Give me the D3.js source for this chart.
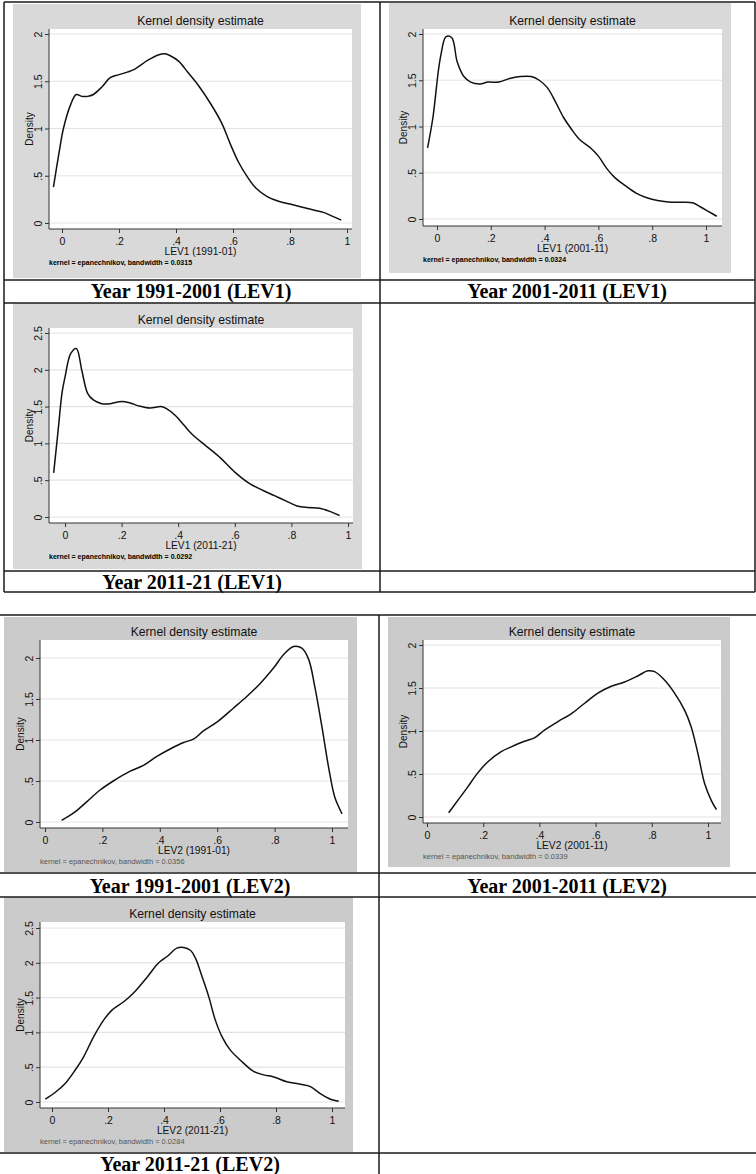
<!DOCTYPE html>
<html>
<head>
<meta charset="utf-8">
<script src="https://cdn.jsdelivr.net/npm/d3@7"></script>
<style>
  body { margin: 0; background: #fff; }
  svg { display: block; }
</style>
</head>
<body>
<svg id="fig" width="756" height="1174"></svg>
<script>
// Axis ticks shared by every density panel
const xTicks = [0, 0.2, 0.4, 0.6, 0.8, 1];
const xTickLabels = ["0", ".2", ".4", ".6", ".8", "1"];
const yTicks2 = [0, 0.5, 1, 1.5, 2];
const yTickLabels2 = ["0", ".5", "1", "1.5", "2"];
const yTicks25 = [0, 0.5, 1, 1.5, 2, 2.5];
const yTickLabels25 = ["0", ".5", "1", "1.5", "2", "2.5"];

// Panel texts
const captions = [
  "Year 1991-2001 (LEV1)", "Year 2001-2011 (LEV1)", "Year 2011-21 (LEV1)",
  "Year 1991-2001 (LEV2)", "Year 2001-2011 (LEV2)", "Year 2011-21 (LEV2)"
];
const axisTitles = [
  "LEV1 (1991-01)", "LEV1 (2001-11)", "LEV1 (2011-21)",
  "LEV2 (1991-01)", "LEV2 (2001-11)", "LEV2 (2011-21)"
];
const bandwidths = ["0.0315", "0.0324", "0.0292", "0.0356", "0.0339", "0.0284"];

// Estimated densities, [value, density]
const lev1_1991 = [[-0.03,0.38],[-0.01,0.75],[0.005,1.0],[0.03,1.25],[0.05,1.36],[0.07,1.34],[0.09,1.34],[0.11,1.36],[0.14,1.44],[0.17,1.54],[0.2,1.57],[0.25,1.62],[0.3,1.72],[0.34,1.78],[0.36,1.79],[0.38,1.77],[0.41,1.71],[0.44,1.6],[0.48,1.45],[0.52,1.27],[0.56,1.06],[0.59,0.84],[0.62,0.64],[0.65,0.49],[0.68,0.37],[0.72,0.28],[0.76,0.23],[0.8,0.2],[0.84,0.17],[0.88,0.14],[0.92,0.11],[0.95,0.07],[0.98,0.03]];
const lev1_2001 = [[-0.035,0.77],[-0.015,1.1],[0.005,1.6],[0.015,1.78],[0.033,1.97],[0.055,1.96],[0.075,1.7],[0.1,1.54],[0.125,1.48],[0.16,1.46],[0.19,1.48],[0.23,1.48],[0.27,1.52],[0.31,1.54],[0.35,1.54],[0.38,1.5],[0.41,1.42],[0.44,1.27],[0.47,1.1],[0.5,0.97],[0.53,0.86],[0.57,0.77],[0.6,0.68],[0.63,0.55],[0.66,0.45],[0.7,0.36],[0.74,0.28],[0.78,0.23],[0.82,0.2],[0.86,0.185],[0.9,0.18],[0.95,0.175],[0.98,0.13],[1.01,0.08],[1.04,0.03]];
const lev1_2011 = [[-0.04,0.6],[-0.025,1.15],[-0.01,1.7],[0.0,1.9],[0.02,2.22],[0.04,2.29],[0.06,1.98],[0.08,1.68],[0.1,1.59],[0.13,1.54],[0.16,1.54],[0.2,1.57],[0.23,1.55],[0.26,1.51],[0.3,1.48],[0.34,1.5],[0.36,1.47],[0.39,1.38],[0.42,1.25],[0.45,1.12],[0.5,0.96],[0.55,0.8],[0.6,0.61],[0.65,0.46],[0.7,0.36],[0.74,0.29],[0.78,0.22],[0.82,0.15],[0.86,0.13],[0.9,0.12],[0.94,0.07],[0.97,0.02]];
const lev2_1991 = [[0.058,0.02],[0.1,0.11],[0.145,0.245],[0.192,0.39],[0.238,0.5],[0.297,0.62],[0.343,0.69],[0.39,0.8],[0.436,0.89],[0.483,0.97],[0.517,1.01],[0.552,1.11],[0.6,1.22],[0.657,1.39],[0.703,1.53],[0.75,1.69],[0.797,1.88],[0.831,2.04],[0.866,2.14],[0.895,2.12],[0.919,1.98],[0.94,1.65],[0.965,1.16],[0.988,0.67],[1.01,0.3],[1.035,0.1]];
const lev2_2001 = [[0.077,0.05],[0.109,0.19],[0.145,0.35],[0.18,0.51],[0.216,0.64],[0.264,0.76],[0.3,0.815],[0.347,0.88],[0.382,0.92],[0.418,1.01],[0.466,1.11],[0.513,1.2],[0.56,1.32],[0.608,1.44],[0.656,1.52],[0.703,1.57],[0.75,1.64],[0.786,1.7],[0.81,1.69],[0.846,1.59],[0.881,1.44],[0.917,1.24],[0.94,1.05],[0.964,0.74],[0.988,0.39],[1.012,0.19],[1.03,0.085]];
const lev2_2011 = [[-0.024,0.04],[0.012,0.14],[0.048,0.27],[0.083,0.46],[0.113,0.65],[0.149,0.94],[0.185,1.18],[0.214,1.32],[0.256,1.44],[0.292,1.57],[0.339,1.79],[0.381,2.0],[0.411,2.09],[0.446,2.21],[0.47,2.22],[0.494,2.18],[0.512,2.07],[0.536,1.8],[0.56,1.51],[0.583,1.18],[0.607,0.94],[0.637,0.745],[0.673,0.6],[0.72,0.44],[0.756,0.39],[0.792,0.36],[0.839,0.29],[0.887,0.255],[0.923,0.22],[0.958,0.12],[0.994,0.04],[1.024,0.01]];

const densities = [lev1_1991, lev1_2001, lev1_2011, lev2_1991, lev2_2001, lev2_2011];

// Panel geometry: grey graph box, plot region, and pixel anchors of the scales
const panels = [
  { box:[13,4,361,278],   plot:[49,29,352,229],    xr:[62,347],  yr:[223,34],    yt:yTicks2,  yl:yTickLabels2,  bg:"#d9d9d9", note:"#000", noteW:"600", noteS:7 },
  { box:[389,3,731,273],  plot:[423,29,722,226],   xr:[437,706], yr:[219,34],    yt:yTicks2,  yl:yTickLabels2,  bg:"#d9d9d9", note:"#000", noteW:"600", noteS:7 },
  { box:[13,303,362,569], plot:[49,328,353,523],   xr:[65,348],  yr:[517,333],   yt:yTicks25, yl:yTickLabels25, bg:"#d9d9d9", note:"#000", noteW:"600", noteS:7 },
  { box:[4,617,357,872],  plot:[40,640,348,828],   xr:[45,332],  yr:[822,658],   yt:yTicks2,  yl:yTickLabels2,  bg:"#cbcbcb", note:"#555", noteW:"400", noteS:7.5 },
  { box:[388,617,730,867],plot:[423,640,721,823],  xr:[427,708], yr:[817,645],   yt:yTicks2,  yl:yTickLabels2,  bg:"#cbcbcb", note:"#555", noteW:"400", noteS:7.5 },
  { box:[4,897,353,1152], plot:[40,922,345,1108],  xr:[52,332],  yr:[1102,928],  yt:yTicks25, yl:yTickLabels25, bg:"#cbcbcb", note:"#555", noteW:"400", noteS:7.5 }
];

// Caption cells: [centre x, baseline y]
const captionPos = [[191,298],[567,298],[192,589],[190,893],[567,893],[190,1171]];

const svg = d3.select("#fig");
const sans = "'Liberation Sans', Arial, sans-serif";
const serif = "'Liberation Serif', 'Times New Roman', serif";

panels.forEach((p, i) => {
  const g = svg.append("g");
  const [bx0, by0, bx1, by1] = p.box;
  const [l, t, r, b] = p.plot;
  g.append("rect").attr("x", bx0).attr("y", by0).attr("width", bx1 - bx0).attr("height", by1 - by0).attr("fill", p.bg);
  g.append("rect").attr("x", l).attr("y", t).attr("width", r - l).attr("height", b - t).attr("fill", "#fff");

  const x = d3.scaleLinear().domain([0, 1]).range(p.xr);
  const y = d3.scaleLinear().domain([0, p.yt[p.yt.length - 1]]).range(p.yr);

  // horizontal grid
  g.selectAll("line.grid").data(p.yt).join("line")
    .attr("x1", l).attr("x2", r)
    .attr("y1", d => y(d)).attr("y2", d => y(d))
    .attr("stroke", "#e3e3e3").attr("stroke-width", 1.2);

  // y axis
  const ya = g.append("g").attr("transform", `translate(${l},0)`)
    .call(d3.axisLeft(y).tickValues(p.yt).tickSize(4).tickFormat((d, k) => p.yl[k]));
  ya.select(".domain").attr("d", `M0,${t}V${b}`).attr("stroke", "#333");
  ya.selectAll(".tick line").attr("stroke", "#333");
  ya.selectAll(".tick text")
    .attr("x", 0).attr("dy", 0)
    .attr("transform", "translate(-7,0) rotate(-90)")
    .attr("text-anchor", "middle")
    .attr("font-family", sans).attr("font-size", 10.5).attr("fill", "#111");

  // x axis
  const xa = g.append("g").attr("transform", `translate(0,${b})`)
    .call(d3.axisBottom(x).tickValues(xTicks).tickSize(4).tickFormat((d, k) => xTickLabels[k]));
  xa.select(".domain").attr("d", `M${l},0H${r}`).attr("stroke", "#333");
  xa.selectAll(".tick line").attr("stroke", "#333");
  xa.selectAll(".tick text").attr("y", 16).attr("dy", 0)
    .attr("font-family", sans).attr("font-size", 10.5).attr("fill", "#111");

  // density curve
  const line = d3.line().x(d => x(d[0])).y(d => y(d[1])).curve(d3.curveCatmullRom.alpha(0.5));
  g.append("path").datum(densities[i]).attr("d", line)
    .attr("fill", "none").attr("stroke", "#111").attr("stroke-width", 1.5);

  const cx = (l + r) / 2;
  g.append("text").attr("x", cx).attr("y", t - 4).attr("text-anchor", "middle")
    .attr("font-family", sans).attr("font-size", 12.2).attr("fill", "#111")
    .text("Kernel density estimate");
  g.append("text").attr("x", cx).attr("y", b + 26).attr("text-anchor", "middle")
    .attr("font-family", sans).attr("font-size", 10.2).attr("fill", "#111")
    .text(axisTitles[i]);
  g.append("text").attr("transform", `translate(${l - 16},${(t + b) / 2}) rotate(-90)`)
    .attr("text-anchor", "middle")
    .attr("font-family", sans).attr("font-size", 10).attr("fill", "#111")
    .text("Density");
  g.append("text").attr("x", l).attr("y", b + 36)
    .attr("font-family", sans).attr("font-size", p.noteS).attr("font-weight", p.noteW).attr("fill", p.note)
    .text(`kernel = epanechnikov, bandwidth = ${bandwidths[i]}`);
});

// captions
svg.selectAll("text.cap").data(captions).join("text")
  .attr("x", (d, i) => captionPos[i][0]).attr("y", (d, i) => captionPos[i][1])
  .attr("text-anchor", "middle")
  .attr("font-family", serif).attr("font-size", 20).attr("font-weight", "bold").attr("fill", "#000")
  .text(d => d);

// table rules
const rule = (x1, y1, x2, y2) => svg.append("line")
  .attr("x1", x1).attr("y1", y1).attr("x2", x2).attr("y2", y2)
  .attr("stroke", "#1a1a1a").attr("stroke-width", 1.5);

// upper table
rule(4, 2, 755, 2); rule(4, 592, 755, 592);
rule(4, 2, 4, 592); rule(755, 2, 755, 592);
rule(4, 280, 755, 280); rule(4, 303, 755, 303); rule(4, 571, 755, 571);
rule(380, 2, 380, 592);
// lower table
rule(0, 615, 756, 615); rule(0, 873, 756, 873); rule(0, 897, 756, 897); rule(0, 1153, 756, 1153);
rule(379, 615, 379, 1174);
</script>
</body>
</html>
